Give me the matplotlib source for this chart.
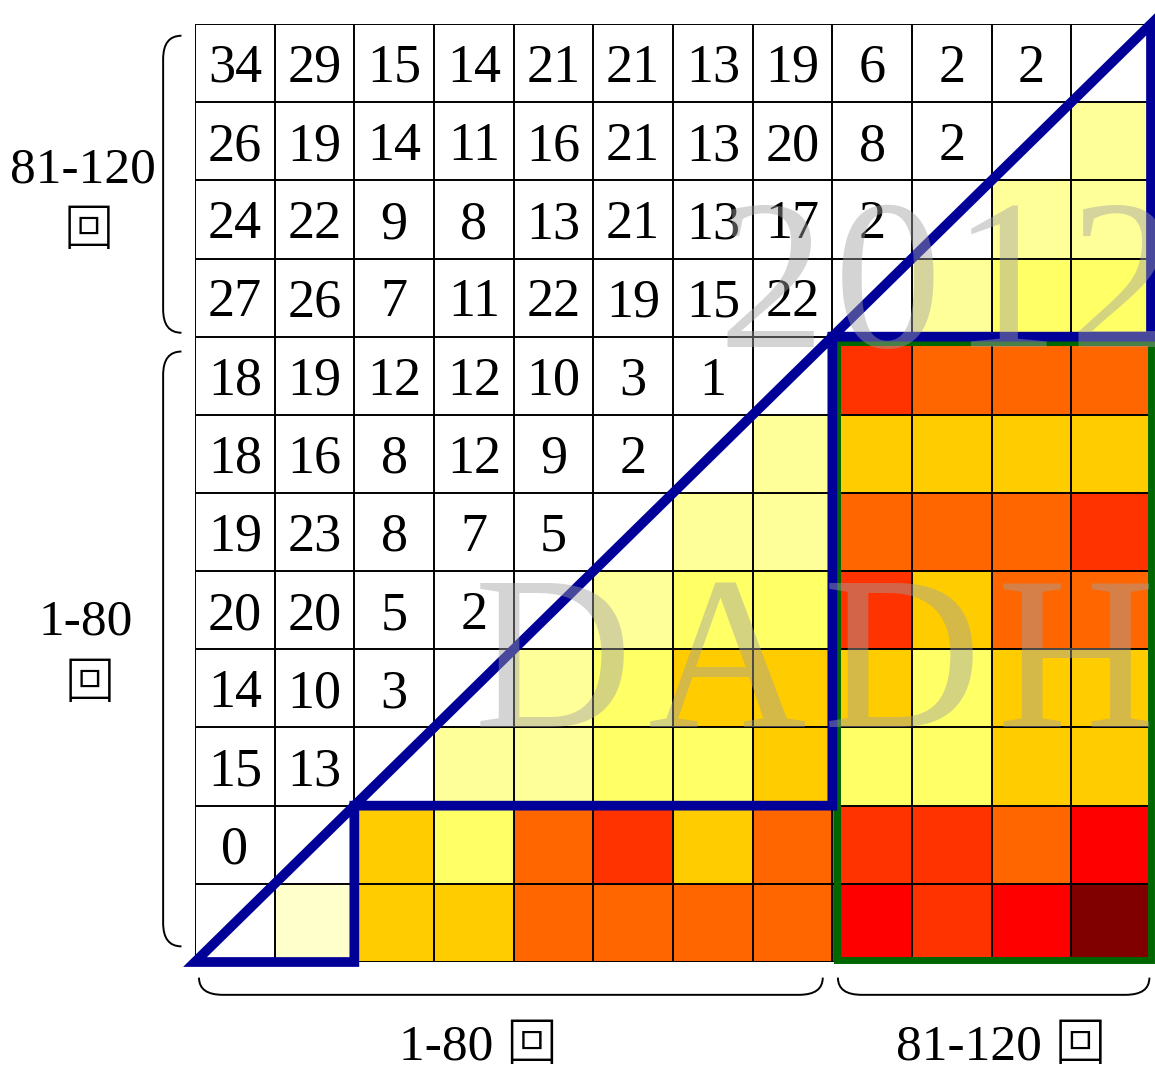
import numpy as np
import matplotlib
matplotlib.use("Agg")
import matplotlib.pyplot as plt
from matplotlib.colors import ListedColormap, BoundaryNorm
from matplotlib.path import Path
from matplotlib.patches import PathPatch, Polygon, Rectangle

# ---------------- data ----------------
n_cells = 12
split = 8           # columns 0..7 -> 1-80 回, 8..11 -> 81-120 回
row_split = 4       # rows 0..3 -> 81-120 回 (top), rows 4..11 -> 1-80 回

# counts in upper-left triangle (row by row, starting at column 0)
count_rows = [
    [34, 29, 15, 14, 21, 21, 13, 19, 6, 2, 2],
    [26, 19, 14, 11, 16, 21, 13, 20, 8, 2],
    [24, 22, 9, 8, 13, 21, 13, 17, 2],
    [27, 26, 7, 11, 22, 19, 15, 22],
    [18, 19, 12, 12, 10, 3, 1],
    [18, 16, 8, 12, 9, 2],
    [19, 23, 8, 7, 5],
    [20, 20, 5, 2],
    [14, 10, 3],
    [15, 13],
    [0],
    [],
]

# heat levels in lower-right triangle (row by row, ending at last column)
heat_rows = [
    [],
    [2],
    [2, 2],
    [2, 3, 3],
    [6, 5, 5, 5],
    [2, 4, 4, 4, 4],
    [2, 2, 5, 5, 5, 6],
    [2, 3, 3, 6, 4, 5, 5],
    [2, 3, 4, 4, 4, 3, 4, 4],
    [2, 2, 3, 3, 4, 3, 3, 4, 4],
    [4, 3, 5, 6, 4, 5, 6, 6, 5, 7],
    [1, 4, 4, 5, 5, 5, 5, 7, 6, 7, 8],
]

level_colors = ["#FFFFCC", "#FFFF99", "#FFFF66", "#FFCC00",
                "#FF6600", "#FF3300", "#FF0000", "#800000"]

row_labels = ["81-120\n回", "1-80\n回"]
col_labels = ["1-80 回", "81-120 回"]
watermarks = ["2012", "DADH"]

# ---------------- build matrices ----------------
heat = np.full((n_cells, n_cells), np.nan)
for r, vals in enumerate(heat_rows):
    for k, v in enumerate(vals):
        heat[r, n_cells - len(vals) + k] = v
heat = np.ma.masked_invalid(heat)

cmap = ListedColormap(level_colors)
norm = BoundaryNorm(np.arange(0.5, len(level_colors) + 1.5, 1), cmap.N)

SERIF = ["Liberation Serif", "Noto Sans CJK JP", "DejaVu Sans"]

fig = plt.figure(figsize=(11.55, 10.74), dpi=100)
ax = fig.add_axes([195 / 1155, 1 - 962 / 1074, 956 / 1155, 938 / 1074])
ax.set_xlim(0, n_cells)
ax.set_ylim(n_cells, 0)
ax.axis("off")

edges = np.arange(n_cells + 1)
ax.pcolormesh(edges, edges, heat, cmap=cmap, norm=norm, zorder=1)

ax.hlines(edges, 0, n_cells, color="black", lw=1.4, zorder=2)
ax.vlines(edges, 0, n_cells, color="black", lw=1.4, zorder=2)

for r, vals in enumerate(count_rows):
    for c, v in enumerate(vals):
        ax.text(c + 0.5, r + 0.74, str(v), ha="center", va="baseline",
                fontsize=39, family=SERIF, color="black", zorder=3)

# green box around 81-120 x 1-80 block
ax.add_patch(Rectangle((split + 0.06, row_split + 0.07),
                       n_cells - split - 0.06, n_cells - row_split - 0.1,
                       fill=False, ec="#006600", lw=5, zorder=4,
                       clip_on=False, joinstyle="miter"))

# blue staircase outline
stair = [(0, n_cells), (2, n_cells), (2, n_cells - 2), (split, n_cells - 2),
         (split, row_split), (n_cells, row_split), (n_cells, 0)]
ax.add_patch(Polygon(stair, closed=True, fill=False, ec="#000099", lw=7,
                     zorder=5, clip_on=False, joinstyle="miter"))


def bracket_vertical(x_line, x_end, y0, y1, rad):
    verts = [(x_end, y0), (x_line, y0), (x_line, y0 + rad),
             (x_line, y1 - rad), (x_line, y1), (x_end, y1)]
    codes = [Path.MOVETO, Path.CURVE3, Path.CURVE3,
             Path.LINETO, Path.CURVE3, Path.CURVE3]
    return Path(verts, codes)


def bracket_horizontal(y_line, y_end, x0, x1, rad):
    verts = [(x0, y_end), (x0, y_line), (x0 + rad, y_line),
             (x1 - rad, y_line), (x1, y_line), (x1, y_end)]
    codes = [Path.MOVETO, Path.CURVE3, Path.CURVE3,
             Path.LINETO, Path.CURVE3, Path.CURVE3]
    return Path(verts, codes)


for p in [bracket_vertical(-0.40, -0.17, 0.15, 3.95, 0.3),
          bracket_vertical(-0.40, -0.17, 4.19, 11.8, 0.3),
          bracket_horizontal(12.42, 12.2, 0.05, 7.88, 0.3),
          bracket_horizontal(12.42, 12.2, 8.07, 11.98, 0.3)]:
    ax.add_patch(PathPatch(p, fill=False, ec="black", lw=1.4, clip_on=False))

# group labels (left: two lines each)
left_pos = [((-1.41, 1.87), (-1.34, 2.67)), ((-1.37, 7.65), (-1.32, 8.47))]
for label, (p1, p2) in zip(row_labels, left_pos):
    l1, l2 = label.split("\n")
    ax.text(*p1, l1, ha="center", va="center", fontsize=37, family=SERIF,
            clip_on=False)
    ax.text(*p2, l2, ha="center", va="center", fontsize=36, family=SERIF,
            fontweight="light", clip_on=False)
ax.text(3.55, 13.1, col_labels[0], ha="center", va="center", fontsize=37,
        family=SERIF, fontweight="light", clip_on=False)
ax.text(10.12, 13.1, col_labels[1], ha="center", va="center", fontsize=37,
        family=SERIF, fontweight="light", clip_on=False)

# watermarks (tracked letters)
wm_style = dict(ha="center", va="baseline", family=SERIF, color="#A0A0A0",
                alpha=0.45, zorder=10, clip_on=False)
for i, ch in enumerate(watermarks[0]):
    ax.text(7.23 + i * 1.468, 4.13, ch, fontsize=155, **wm_style)
for i, ch in enumerate(watermarks[1]):
    ax.text(4.49 + i * 2.19, 9.0, ch, fontsize=158, **wm_style)

fig.savefig("out.png", dpi=100)
